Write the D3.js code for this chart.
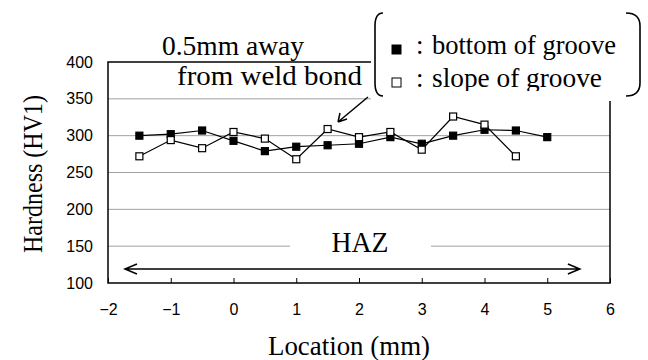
<!DOCTYPE html>
<html>
<head>
<meta charset="utf-8">
<script src="https://cdn.jsdelivr.net/npm/d3@7"></script>
<style>
  body { margin: 0; background: #fff; }
  svg { display: block; }
</style>
</head>
<body>
<div id="chart"></div>
<script>
// hardness measured along the groove, 0.5 mm away from the weld bond
let bottomLoc = [-1.5, -1, -0.5, 0, 0.5, 1, 1.5, 2, 2.5, 3, 3.5, 4, 4.5, 5];
let bottomHV  = [300, 302, 307, 293, 279, 285, 287, 289, 298, 289, 300, 308, 307, 298];
let slopeLoc  = [-1.5, -1, -0.5, 0, 0.5, 1, 1.5, 2, 2.5, 3, 3.5, 4, 4.5];
let slopeHV   = [272, 294, 283, 305, 296, 268, 309, 298, 305, 281, 326, 315, 272];
let xTicks = [-2, -1, 0, 1, 2, 3, 4, 5, 6];
let yTicks = [100, 150, 200, 250, 300, 350, 400];

let width = 648,
    height = 360;
let serif = "Liberation Serif";
let sans = "Liberation Sans";

let svg = d3.select("#chart")
    .append("svg")
    .attr("width", width)
    .attr("height", height);

let x = d3.scaleLinear().domain([-2, 6]).range([108, 610]);
let y = d3.scaleLinear().domain([100, 400]).range([283, 62]);

// serif text, a bit taller than wide like the original
function label(g, tx, ty, str, size, len, anchor) {
    let t = g.append("text")
        .attr("x", tx).attr("y", ty)
        .attr("font-family", serif).attr("font-size", size)
        .attr("text-anchor", anchor || "start")
        .text(str);
    if (len) t.attr("textLength", len).attr("lengthAdjust", "spacingAndGlyphs");
    return t;
}

// grid
svg.append("g")
    .selectAll("line")
    .data(yTicks.slice(1, -1))
    .enter().append("line")
    .attr("x1", x(-2)).attr("x2", x(6))
    .attr("y1", d => y(d)).attr("y2", d => y(d))
    .attr("stroke", "#a0a0a0")
    .attr("stroke-width", 1);

// axes
let xAxis = svg.append("g")
    .attr("transform", "translate(0," + y(100) + ")")
    .call(d3.axisBottom(x).tickValues(xTicks).tickSizeInner(-5).tickSizeOuter(0).tickPadding(21));
let yAxis = svg.append("g")
    .attr("transform", "translate(" + x(-2) + ",0)")
    .call(d3.axisLeft(y).tickValues(yTicks).tickSize(0).tickPadding(15));
[xAxis, yAxis].forEach(a => {
    a.select(".domain").remove();
    a.selectAll("text").attr("font-family", sans).attr("font-size", 16).attr("fill", "#000");
    a.selectAll("line").attr("stroke", "#000");
});

// plot border
svg.append("rect")
    .attr("x", x(-2)).attr("y", y(400))
    .attr("width", x(6) - x(-2)).attr("height", y(100) - y(400))
    .attr("fill", "none")
    .attr("stroke", "#000")
    .attr("stroke-width", 1.5);

// HAZ label with white box over the grid
svg.append("rect")
    .attr("x", 290).attr("y", 226).attr("width", 141).attr("height", 32)
    .attr("fill", "#fff");
label(svg, 360, 252, "HAZ", 29, 57, "middle");

// HAZ double arrow
let ay = 269;
let ax1 = x(-1.73), ax2 = x(5.52);
svg.append("path")
    .attr("d", "M" + ax1 + "," + ay + "H" + ax2 +
        "M" + (ax1 + 12) + "," + (ay - 5) + "L" + ax1 + "," + ay + "L" + (ax1 + 12) + "," + (ay + 5) +
        "M" + (ax2 - 12) + "," + (ay - 5) + "L" + ax2 + "," + ay + "L" + (ax2 - 12) + "," + (ay + 5))
    .attr("fill", "none")
    .attr("stroke", "#000")
    .attr("stroke-width", 1.5);

// series
let line = d3.line().x(d => x(d[0])).y(d => y(d[1]));
let series = [
    { pts: d3.zip(bottomLoc, bottomHV), fill: "#000" },
    { pts: d3.zip(slopeLoc, slopeHV), fill: "#fff" }
];
series.forEach(s => {
    svg.append("path")
        .datum(s.pts)
        .attr("d", line)
        .attr("fill", "none")
        .attr("stroke", "#000")
        .attr("stroke-width", 1.2);
});
series.forEach(s => {
    svg.append("g")
        .selectAll("rect")
        .data(s.pts)
        .enter().append("rect")
        .attr("x", d => x(d[0]) - 3.5)
        .attr("y", d => y(d[1]) - 3.5)
        .attr("width", 7).attr("height", 7)
        .attr("fill", s.fill)
        .attr("stroke", "#000")
        .attr("stroke-width", 1.2);
});

// note: 0.5mm away from weld bond
label(svg, 162, 55, "0.5mm away", 28, 142);
label(svg, 177, 85, "from weld bond", 28, 185);
svg.append("path")
    .attr("d", "M368,97L338,122M338,122L340,113M338,122L347,119")
    .attr("fill", "none")
    .attr("stroke", "#000")
    .attr("stroke-width", 1.5);

// legend
let leg = svg.append("g");
leg.append("rect")
    .attr("x", 371).attr("y", 8).attr("width", 276).attr("height", 93)
    .attr("fill", "#fff");
leg.append("path")
    .attr("d", "M383,13Q375,13 375,26V83Q375,96 383,96M626,13Q640,13 640,26V83Q640,96 626,96")
    .attr("fill", "none")
    .attr("stroke", "#000")
    .attr("stroke-width", 1.6);
leg.append("clipPath").attr("id", "legclip")
    .append("rect").attr("x", 371).attr("y", 8).attr("width", 276).attr("height", 83);
let legItems = [
    { label: "bottom of groove", fill: "#000", y: 54, len: 184 },
    { label: "slope of groove", fill: "#fff", y: 87, len: 170 }
];
legItems.forEach(d => {
    leg.append("rect")
        .attr("x", 392).attr("y", d.y - 9)
        .attr("width", 9).attr("height", 9)
        .attr("fill", d.fill)
        .attr("stroke", "#000")
        .attr("stroke-width", 1);
    label(leg, 416, d.y, ":", 27);
    label(leg, 432, d.y, d.label, 28, d.len).attr("clip-path", "url(#legclip)");
});

// axis titles
label(svg, 349, 355, "Location (mm)", 28, 162, "middle");
label(svg, 0, 0, "Hardness (HV1)", 28, 158, "middle")
    .attr("transform", "translate(42,174) rotate(-90)");
</script>
</body>
</html>
